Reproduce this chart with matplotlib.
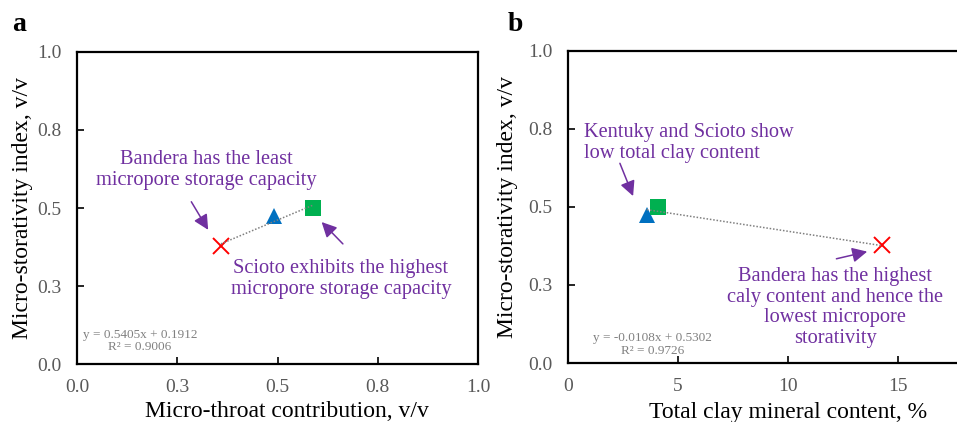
import numpy as np
import matplotlib.pyplot as plt

plt.rcParams['font.family'] = ['Liberation Serif', 'DejaVu Serif']

# Sample data
samples = ['Bandera', 'Kentucky', 'Scioto']
throat_contribution = [0.359, 0.491, 0.589]
storativity_index = [0.377, 0.475, 0.500]
clay_content = [14.26, 3.58, 4.09]

marker_styles = ['x', '^', 's']
marker_colors = ['#FF0000', '#0070C0', '#00B050']
marker_sizes = [11, 11.5, 12]

# Linear trend lines (slope, intercept, R²)
fit_a = (0.5405, 0.1912, 0.9006)
fit_b = (-0.0108, 0.5302, 0.9726)

y_ticks = [0.0, 0.25, 0.5, 0.75, 1.0]
y_ticklabels = ['0.0', '0.3', '0.5', '0.8', '1.0']
xa_ticks = [0.0, 0.25, 0.5, 0.75, 1.0]
xa_ticklabels = ['0.0', '0.3', '0.5', '0.8', '1.0']
xb_ticks = [0, 5, 10, 15]
xb_ticklabels = ['0', '5', '10', '15']

purple = '#7030A0'
tick_gray = '#595959'
eq_gray = '#808080'

fig = plt.figure(figsize=(9.57, 4.22), dpi=100)
ax_a = fig.add_axes([0.0805, 0.1374, 0.419, 0.7394])
ax_b = fig.add_axes([0.5935, 0.1398, 0.4598, 0.7394])


def style_axes(ax):
    for s in ax.spines.values():
        s.set_linewidth(1.6)
        s.set_color('black')
    ax.tick_params(direction='in', length=5, width=1.2, pad=11,
                   labelsize=14, labelcolor=tick_gray,
                   top=False, right=False)
    ax.set_ylim(0, 1.0)
    ax.set_yticks(y_ticks)
    ax.set_yticklabels(y_ticklabels)


def draw_points(ax, xs):
    for x, y, m, c, s in zip(xs, storativity_index, marker_styles,
                             marker_colors, marker_sizes):
        if m == 'x':
            ax.plot(x, y, marker=m, color=c, markersize=s,
                    markeredgewidth=1.4, linestyle='none', zorder=4)
        else:
            ax.plot(x, y, marker=m, color=c, markersize=s,
                    markeredgewidth=0, linestyle='none', zorder=4)


def draw_trend(ax, xs, fit):
    slope, intercept, _ = fit
    xx = np.array([min(xs), max(xs)])
    ax.plot(xx, slope * xx + intercept, linestyle=(0, (1, 1.2)),
            color='#7F7F7F', linewidth=1.1, zorder=5)


arrow_kw = dict(arrowstyle='-|>,head_length=0.9,head_width=0.45',
                color=purple, lw=1.1, shrinkA=0, shrinkB=0)

# Panel a
style_axes(ax_a)
ax_a.set_xlim(0, 1.0)
ax_a.set_xticks(xa_ticks)
ax_a.set_xticklabels(xa_ticklabels)
draw_points(ax_a, throat_contribution)
draw_trend(ax_a, throat_contribution, fit_a)
ax_a.set_xlabel('Micro-throat contribution, v/v', fontsize=17)
ax_a.set_ylabel('Micro-storativity index, v/v', fontsize=17)
ax_a.xaxis.set_label_coords(0.523, -0.12)
ax_a.yaxis.set_label_coords(-0.11, 0.5)

ax_a.text(0.323, 0.622, 'Bandera has the least\nmicropore storage capacity',
          transform=ax_a.transAxes, ha='center', va='center',
          fontsize=14.7, color=purple, linespacing=1.15)
ax_a.annotate('', xy=(0.327, 0.43), xytext=(0.285, 0.52),
              xycoords='axes fraction', textcoords='axes fraction',
              arrowprops=arrow_kw)
ax_a.text(0.658, 0.272, 'Scioto exhibits the highest\nmicropore storage capacity',
          transform=ax_a.transAxes, ha='center', va='center',
          fontsize=14.7, color=purple, linespacing=1.15)
ax_a.annotate('', xy=(0.61, 0.455), xytext=(0.663, 0.385),
              xycoords='axes fraction', textcoords='axes fraction',
              arrowprops=arrow_kw)
ax_a.text(0.157, 0.074,
          'y = %.4fx + %.4f\nR² = %.4f' % fit_a,
          transform=ax_a.transAxes, ha='center', va='center',
          fontsize=9.5, color=eq_gray, linespacing=1.05)

# Panel b
style_axes(ax_b)
ax_b.set_xlim(0, 20)
ax_b.set_xticks(xb_ticks)
ax_b.set_xticklabels(xb_ticklabels)
draw_points(ax_b, clay_content)
draw_trend(ax_b, clay_content, fit_b)
ax_b.set_xlabel('Total clay mineral content, %', fontsize=17)
ax_b.set_ylabel('Micro-storativity index, v/v', fontsize=17)
ax_b.xaxis.set_label_coords(0.5, -0.125)
ax_b.yaxis.set_label_coords(-0.114, 0.5)

ax_b.text(0.036, 0.705, 'Kentuky and Scioto show\nlow total clay content',
          transform=ax_b.transAxes, ha='left', va='center',
          fontsize=14.7, color=purple, linespacing=1.15)
ax_b.annotate('', xy=(0.148, 0.535), xytext=(0.118, 0.64),
              xycoords='axes fraction', textcoords='axes fraction',
              arrowprops=arrow_kw)
ax_b.text(0.607, 0.178,
          'Bandera has the highest\ncaly content and hence the\nlowest micropore\nstorativity',
          transform=ax_b.transAxes, ha='center', va='center',
          fontsize=14.7, color=purple, linespacing=1.12)
ax_b.annotate('', xy=(0.68, 0.357), xytext=(0.61, 0.334),
              xycoords='axes fraction', textcoords='axes fraction',
              arrowprops=arrow_kw)
ax_b.text(0.193, 0.059,
          'y = %.4fx + %.4f\nR² = %.4f' % fit_b,
          transform=ax_b.transAxes, ha='center', va='center',
          fontsize=9.5, color=eq_gray, linespacing=1.05)

# Panel letters
fig.text(0.013, 0.943, 'a', fontsize=20, fontweight='bold', ha='left', va='center')
fig.text(0.530, 0.943, 'b', fontsize=20, fontweight='bold', ha='left', va='center')

fig.savefig('out.png', dpi=100)
